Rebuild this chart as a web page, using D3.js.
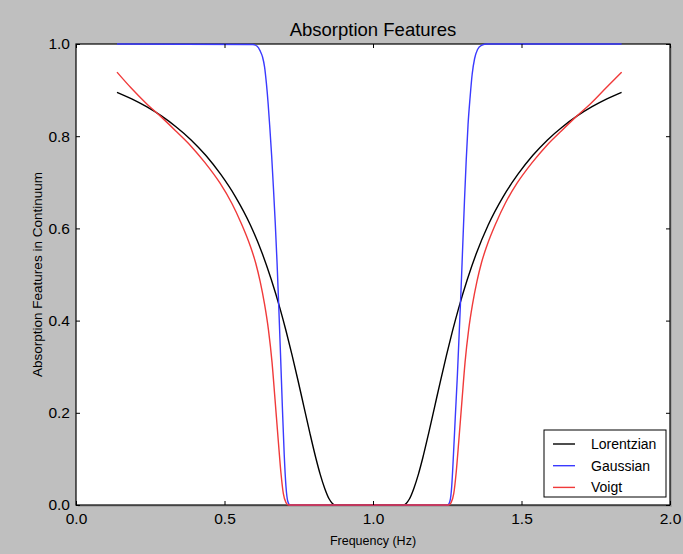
<!DOCTYPE html>
<html>
<head>
<meta charset="utf-8">
<script src="https://cdn.jsdelivr.net/npm/d3@7/dist/d3.min.js"></script>
<style>
  html, body { margin: 0; padding: 0; background: #bfbfbf; }
  svg { display: block; font-family: "Liberation Sans", Arial, Helvetica, sans-serif; }
</style>
</head>
<body>
<svg id="chart" width="683" height="554"></svg>
<script>
// Line profiles: fraction of continuum remaining vs. frequency
const lorentzFreq  = [0.138, 0.1875, 0.2375, 0.2875, 0.3375, 0.3875, 0.4375, 0.4875, 0.5375, 0.5875, 0.6275, 0.6575,
                      0.6875, 0.7075, 0.7275, 0.7475, 0.7675, 0.7875, 0.8075, 0.8225, 0.8375, 0.8525, 0.8625, 0.8725,
                      1.1025, 1.1125, 1.1225, 1.1375, 1.1525, 1.1675, 1.1875, 1.2075, 1.2275, 1.2475, 1.2675, 1.2875,
                      1.3175, 1.3475, 1.3875, 1.4375, 1.4875, 1.5375, 1.5875, 1.6375, 1.6875, 1.7375, 1.7875, 1.837];
const lorentzDepth = [0.895, 0.881, 0.864, 0.844, 0.820, 0.792, 0.758, 0.717, 0.668, 0.607, 0.545, 0.489,
                      0.425, 0.377, 0.325, 0.270, 0.213, 0.156, 0.102, 0.066, 0.036, 0.013, 0.004, 0.0,
                      0.0, 0.004, 0.013, 0.036, 0.066, 0.102, 0.156, 0.213, 0.270, 0.325, 0.377, 0.425,
                      0.489, 0.545, 0.607, 0.668, 0.717, 0.758, 0.792, 0.820, 0.844, 0.864, 0.881, 0.895];

const gaussFreq  = [0.138, 0.595, 0.610, 0.620, 0.628, 0.635, 0.641, 0.647, 0.653, 0.659, 0.665, 0.671, 0.677, 0.683, 0.689,
                    0.695, 0.701, 0.707, 0.713, 0.720,
                    1.252, 1.259, 1.265, 1.271, 1.277, 1.284, 1.290, 1.296, 1.302, 1.308, 1.314, 1.320, 1.327, 1.334,
                    1.342, 1.352, 1.365, 1.385, 1.837];
const gaussDepth = [1.0, 0.999, 0.995, 0.985, 0.972, 0.950, 0.915, 0.870, 0.815, 0.755, 0.685, 0.610, 0.525, 0.425, 0.320,
                    0.210, 0.110, 0.040, 0.008, 0.0,
                    0.0, 0.008, 0.040, 0.110, 0.190, 0.280, 0.370, 0.460, 0.560, 0.660, 0.750, 0.825, 0.885, 0.935,
                    0.968, 0.988, 0.997, 1.0, 1.0];

const voigtFreq  = [0.138, 0.185, 0.235, 0.285, 0.335, 0.385, 0.435, 0.485, 0.525, 0.555, 0.585, 0.605, 0.620, 0.635, 0.648,
                    0.660, 0.670, 0.681, 0.690, 0.698, 0.707, 0.715,
                    1.255, 1.263, 1.272, 1.280, 1.289, 1.300, 1.310, 1.322, 1.335, 1.350, 1.365, 1.385, 1.415, 1.445,
                    1.485, 1.535, 1.585, 1.635, 1.685, 1.735, 1.785, 1.837];
const voigtDepth = [0.939, 0.905, 0.872, 0.843, 0.812, 0.780, 0.742, 0.698, 0.654, 0.613, 0.565, 0.525, 0.485, 0.435, 0.380,
                    0.310, 0.230, 0.140, 0.070, 0.025, 0.005, 0.0,
                    0.0, 0.005, 0.025, 0.070, 0.140, 0.230, 0.310, 0.380, 0.435, 0.485, 0.525, 0.565, 0.613, 0.654,
                    0.698, 0.742, 0.780, 0.812, 0.843, 0.872, 0.905, 0.939];

const seriesNames  = ["Lorentzian", "Gaussian", "Voigt"];
const seriesColors = ["#000000", "#3a3aff", "#f03a3a"];

const xTicks = [0.0, 0.5, 1.0, 1.5, 2.0];
const yTicks = [0.0, 0.2, 0.4, 0.6, 0.8, 1.0];

const titleText  = "Absorption Features";
const xLabelText = "Frequency (Hz)";
const yLabelText = "Absorption Features in Continuum";

// Layout
const W = 683, H = 554;
const margin = { top: 44, right: 13, bottom: 49, left: 76 };
const iw = W - margin.left - margin.right;
const ih = H - margin.top - margin.bottom;

const svg = d3.select("#chart");
svg.append("rect").attr("width", W).attr("height", H).attr("fill", "#bfbfbf");

const g = svg.append("g").attr("transform", `translate(${margin.left},${margin.top})`);

const x = d3.scaleLinear().domain([0, 2]).range([0, iw]);
const y = d3.scaleLinear().domain([0, 1]).range([ih, 0]);

// soft drop shadow under the axes box, then the white plotting area
g.append("rect").attr("x", 2).attr("y", 2).attr("width", iw).attr("height", ih).attr("fill", "#a6a6a6");
g.append("rect").attr("width", iw).attr("height", ih).attr("fill", "#ffffff");

// Frame
g.append("rect").attr("width", iw).attr("height", ih)
  .attr("fill", "none").attr("stroke", "#000").attr("stroke-width", 1.2);

const clip = svg.append("defs").append("clipPath").attr("id", "plotclip");
clip.append("rect").attr("x", -2).attr("y", -2).attr("width", iw + 4).attr("height", ih + 4);

const series = [
  { name: seriesNames[0], color: seriesColors[0], xs: lorentzFreq, ys: lorentzDepth },
  { name: seriesNames[1], color: seriesColors[1], xs: gaussFreq,   ys: gaussDepth },
  { name: seriesNames[2], color: seriesColors[2], xs: voigtFreq,   ys: voigtDepth }
];

const line = d3.line()
  .x(d => x(d[0]))
  .y(d => y(d[1]))
  .curve(d3.curveMonotoneX);

const lines = g.append("g").attr("clip-path", "url(#plotclip)");
series.forEach(s => {
  lines.append("path")
    .datum(s.xs.map((v, i) => [v, s.ys[i]]))
    .attr("fill", "none")
    .attr("stroke", s.color)
    .attr("stroke-width", 1.4)
    .attr("stroke-linejoin", "round")
    .attr("d", line);
});

// Axes with inward ticks on all four sides
const tickLen = 4;
const fmt = d3.format(".1f");

const xAxis = g.append("g").attr("transform", `translate(0,${ih})`)
  .call(d3.axisBottom(x).tickValues(xTicks).tickFormat(fmt).tickSizeInner(-tickLen).tickSizeOuter(0).tickPadding(8));
const xAxisTop = g.append("g")
  .call(d3.axisTop(x).tickValues(xTicks).tickFormat("").tickSizeInner(-tickLen).tickSizeOuter(0));
const yAxis = g.append("g")
  .call(d3.axisLeft(y).tickValues(yTicks).tickFormat(fmt).tickSizeInner(-tickLen).tickSizeOuter(0).tickPadding(6));
const yAxisRight = g.append("g").attr("transform", `translate(${iw},0)`)
  .call(d3.axisRight(y).tickValues(yTicks).tickFormat("").tickSizeInner(-tickLen).tickSizeOuter(0));

[xAxis, xAxisTop, yAxis, yAxisRight].forEach(a => {
  a.select(".domain").remove();
  a.selectAll(".tick line").attr("stroke", "#000").attr("stroke-width", 1);
  a.selectAll(".tick text").attr("fill", "#000").style("font-size", "15.5px")
    .style("font-family", '"Liberation Sans", Arial, Helvetica, sans-serif');
});

// Title and axis labels
svg.append("text")
  .attr("x", margin.left + iw / 2).attr("y", 36)
  .attr("text-anchor", "middle")
  .style("font-size", "18.5px")
  .text(titleText);

svg.append("text")
  .attr("x", margin.left + iw / 2).attr("y", 545)
  .attr("text-anchor", "middle")
  .style("font-size", "12.5px")
  .text(xLabelText);

svg.append("text")
  .attr("transform", `translate(42,${margin.top + ih / 2}) rotate(-90)`)
  .attr("text-anchor", "middle")
  .style("font-size", "13.5px")
  .text(yLabelText);

// Legend, lower right
const legend = g.append("g").attr("transform", `translate(${iw - 126},${ih - 75})`);
legend.append("rect").attr("width", 122).attr("height", 67)
  .attr("fill", "#fff").attr("stroke", "#000").attr("stroke-width", 1);
series.forEach((s, i) => {
  const ly = 14 + i * 21.7;
  legend.append("line").attr("x1", 9).attr("x2", 31).attr("y1", ly).attr("y2", ly)
    .attr("stroke", s.color).attr("stroke-width", 1.4);
  legend.append("text").attr("x", 47).attr("y", ly).attr("dy", "0.35em")
    .style("font-size", "14px").text(s.name);
});
</script>
</body>
</html>
